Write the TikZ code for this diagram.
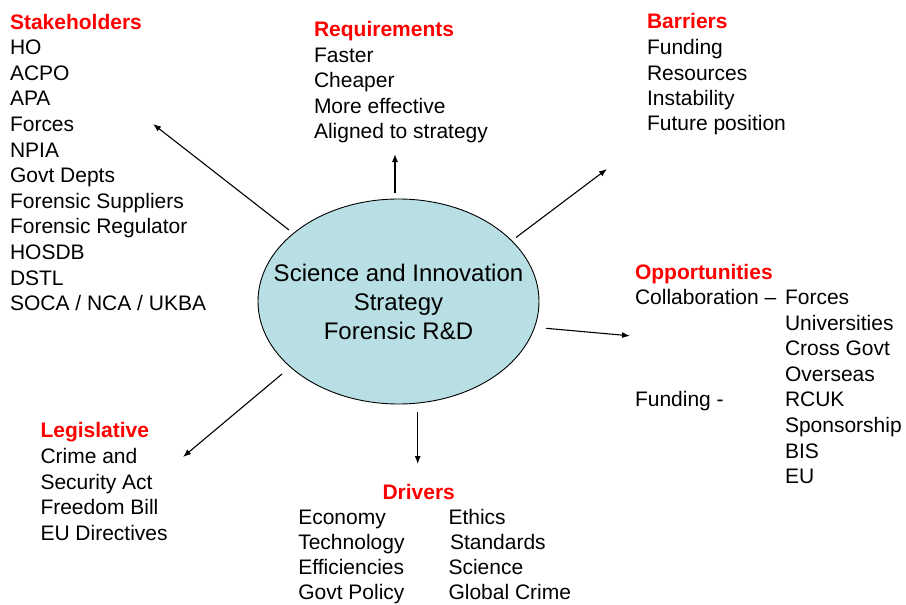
\documentclass[tikz,border=0pt]{standalone}
\usepackage{fontspec}
\setmainfont{Liberation Sans}
\usetikzlibrary{arrows.meta,shapes.geometric}
\definecolor{ellfill}{RGB}{184,223,228}
\definecolor{headred}{RGB}{255,0,0}
\begin{document}
\begin{tikzpicture}[x=1pt,y=-1pt,
  blk/.style={anchor=base west,inner sep=0pt,outer sep=0pt,align=left,
    font=\fontsize{21}{25.6}\selectfont},
  head/.style={anchor=base west,inner sep=0pt,outer sep=0pt,
    font=\fontsize{21}{25.6}\selectfont\bfseries,text=headred},
  conn/.style={line width=1.1pt,-{Latex[length=8pt,width=6pt]}}]
\useasboundingbox (0,0) rectangle (906,605);
% central ellipse
\node[ellipse,draw=black,line width=0.9pt,fill=ellfill,minimum width=281pt,minimum height=205pt,inner sep=0pt] (ell) at (398.5,301.5) {};
\node[inner sep=0pt,align=center,font=\fontsize{24}{29}\selectfont] (elltxt) at (ell.center)
  {Science and Innovation\\Strategy\\Forensic R\&D};
% (block nodes are anchored at the baseline of their last line)
% Stakeholders
\node[head] (sth) at (10,29) {Stakeholders};
\node[blk] (stl) at (10,310.6) {HO\\ACPO\\APA\\Forces\\NPIA\\Govt Depts\\Forensic Suppliers\\Forensic Regulator\\HOSDB\\DSTL\\SOCA / NCA / UKBA};
% Requirements
\node[head] (rqh) at (314,36.7) {Requirements};
\node[blk,font=\fontsize{21}{25.4}\selectfont] (rql) at (314,138.5) {Faster\\Cheaper\\More effective\\Aligned to strategy};
% Barriers
\node[head] (bah) at (647,28.5) {Barriers};
\node[blk,font=\fontsize{21}{25.3}\selectfont] (bal) at (647,130.6) {Funding\\Resources\\Instability\\Future position};
% Opportunities
\node[head] (oph) at (635,279) {Opportunities};
\node[blk] (opa) at (635,304.4) {Collaboration \textendash};
\node[blk] (opb) at (635,406.8) {Funding -};
\node[blk] (opl) at (785,483.6) {Forces\\Universities\\Cross Govt\\Overseas\\RCUK\\Sponsorship\\BIS\\EU};
% Legislative
\node[head] (leh) at (40.5,437.7) {Legislative};
\node[blk,font=\fontsize{21}{25.75}\selectfont] (lel) at (40.5,540.5) {Crime and\\Security Act\\Freedom Bill\\EU Directives};
% Drivers
\node[head] (drh) at (382.5,499) {Drivers};
\node[blk,font=\fontsize{21}{25.3}\selectfont] (drl) at (298.3,599.9) {Economy\\Technology\\Efficiencies\\Govt Policy};
\node[blk,font=\fontsize{21}{25.3}\selectfont] (drr) at (448.5,599.9) {Ethics\\\hspace{1.5pt}Standards\\Science\\Global Crime};
% connector end points
\coordinate (a1) at (289,230);  \coordinate (b1) at (153,124);
\coordinate (a2) at (395,192.5);\coordinate (b2) at (395,154);
\coordinate (a3) at (516,237.5);\coordinate (b3) at (607,169);
\coordinate (a4) at (546,328.3);\coordinate (b4) at (630,335.8);
\coordinate (a5) at (417.7,411.7);\coordinate (b5) at (417.7,464);
\coordinate (a6) at (282,374);  \coordinate (b6) at (183,457);
\draw[conn] (a1) -- (b1);
\draw[conn] (a2) -- (b2);
\draw[conn] (a3) -- (b3);
\draw[conn] (a4) -- (b4);
\draw[conn] (a5) -- (b5);
\draw[conn] (a6) -- (b6);
\end{tikzpicture}
\end{document}
